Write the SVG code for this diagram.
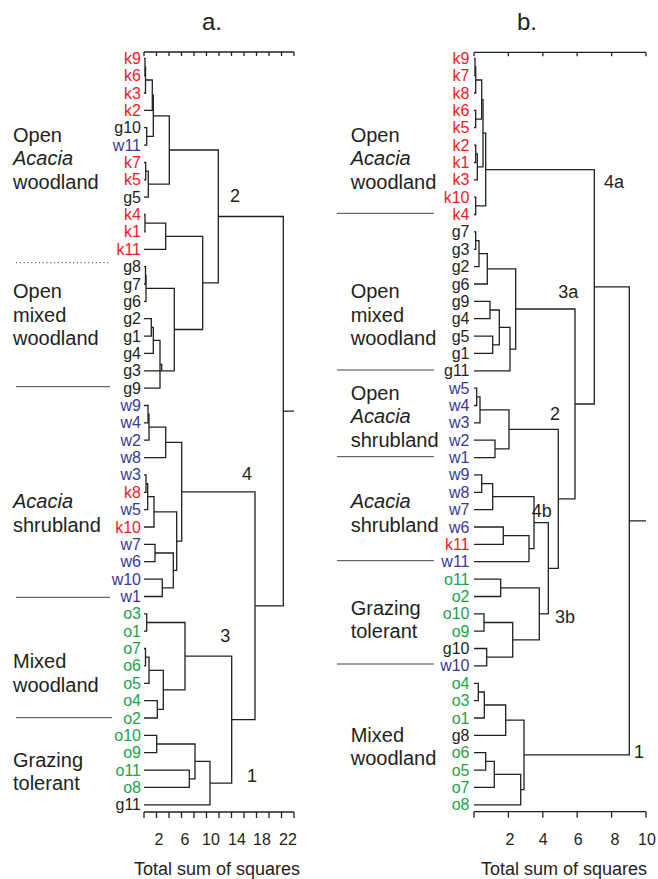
<svg xmlns="http://www.w3.org/2000/svg" width="658" height="879" viewBox="0 0 658 879">
<style>
text{font-family:"Liberation Sans",Arial,sans-serif;fill:#231f20}
.lf{font-size:16px;text-anchor:end}
.k{fill:#ed1c24}.w{fill:#3a3896}.o{fill:#1fa149}.g{fill:#231f20}
.grp{font-size:20px}
.it{font-style:italic}
.num{font-size:18px}
.tk{font-size:16px;text-anchor:middle}
.ttl{font-size:18px;text-anchor:middle}
.hd{font-size:24px}
.tree path{fill:none;stroke:#231f20;stroke-width:1.3}
.ax{fill:none;stroke:#231f20;stroke-width:1.3}
.sep{stroke:#444;stroke-width:1;fill:none}
.dot{stroke:#444;stroke-width:1;stroke-dasharray:1.2 2.6;fill:none}
</style>
<rect width="658" height="879" fill="#fff"/>
<text class="hd" x="222" y="30" text-anchor="end">a.</text>
<text class="hd" x="537" y="30" text-anchor="end">b.</text>

<g id="axes">
<path class="ax" d="M144 52H294M144 52v4M156.5 52v4M169 52v4M181.5 52v4M194 52v4M206.5 52v4M219 52v4M231.5 52v4M244 52v4M256.5 52v4M269 52v4M281.5 52v4M294 52v4"/>
<path class="ax" d="M144 812H294M144 812v6M156.5 812v6M169 812v6M181.5 812v6M194 812v6M206.5 812v6M219 812v6M231.5 812v6M244 812v6M256.5 812v6M269 812v6M281.5 812v6M294 812v6"/>
<text class="tk" x="159" y="845">2</text><text class="tk" x="185" y="845">6</text><text class="tk" x="211" y="845">10</text><text class="tk" x="237" y="845">14</text><text class="tk" x="262" y="845">18</text><text class="tk" x="288" y="845">22</text>
<text class="ttl" x="217" y="875">Total sum of squares</text>
<path class="ax" d="M474 52.3H646M474 52.3v4M508.4 52.3v4M542.8 52.3v4M577.2 52.3v4M611.6 52.3v4M646 52.3v4"/>
<path class="ax" d="M474 811.7H646M474 811.7v6M508.4 811.7v6M542.8 811.7v6M577.2 811.7v6M611.6 811.7v6M646 811.7v6"/>
<text class="tk" x="510" y="845">2</text><text class="tk" x="543.3" y="845">4</text><text class="tk" x="578.3" y="845">6</text><text class="tk" x="615" y="845">8</text><text class="tk" x="647" y="845">10</text>
<text class="ttl" x="564" y="875">Total sum of squares</text>
</g>

<g id="connectors" class="tree">
<path d="M144 58.3H145V75.7H144"/>
<path d="M145 67H145.5V93H144"/>
<path d="M145.5 80H152.3V110.4H144"/>
<path d="M144 127.7H146.7V145.1H144"/>
<path d="M152.3 95.2H153.3V136.4H146.7"/>
<path d="M144 162.5H145.7V179.8H144"/>
<path d="M145.7 171.2H148.3V197.2H144"/>
<path d="M153.3 115.8H169.3V184.2H148.3"/>
<path d="M144 214.5H145V231.9H144"/>
<path d="M145 223.2H165.7V249.3H144"/>
<path d="M144 266.6H145.5V284H144"/>
<path d="M145.5 275.3H146V301.3H144"/>
<path d="M144 318.7H151.3V336.1H144"/>
<path d="M151.3 327.4H153.3V353.4H144"/>
<path d="M153.3 340.4H160V388.1H144"/>
<path d="M160 364.3H161.7V370.8"/>
<path d="M146 288.3H174.3V370.8H144"/>
<path d="M165.7 236.3H202.7V329.5H174.3"/>
<path d="M169.3 150H218.3V282.9H202.7"/>
<path d="M144 405.5H148V422.9H144"/>
<path d="M148 414.2H149V440.2H144"/>
<path d="M149 427.2H165.7V457.6H144"/>
<path d="M144 474.9H146V492.3H144"/>
<path d="M146 483.6H147.7V509.7H144"/>
<path d="M147.7 496.7H154V527H144"/>
<path d="M144 544.4H155V561.7H144"/>
<path d="M144 579.1H162.3V596.5H144"/>
<path d="M155 553H173.3V587.8H162.3"/>
<path d="M154 511.8H176.7V570.4H173.3"/>
<path d="M165.7 442.4H181.7V541.1H176.7"/>
<path d="M144 613.8H146.7V631.2H144"/>
<path d="M144 648.5H145.5V665.9H144"/>
<path d="M145.5 657.2H149V683.3H144"/>
<path d="M144 700.6H157.3V718H144"/>
<path d="M149 670.3H163.3V709.3H157.3"/>
<path d="M146.7 622.5H185V689.8H163.3"/>
<path d="M144 735.3H156.7V752.7H144"/>
<path d="M144 770.1H189.3V787.4H144"/>
<path d="M156.7 744H195V778.8H189.3"/>
<path d="M195 761.4H210V804.8H144"/>
<path d="M185 656.2H231.7V783.1H210"/>
<path d="M181.7 491.8H255V719.7H231.7"/>
<path d="M218.3 216.5H283.3V605.8H255M283.3 411.1H294"/>

<path d="M474 58.3H475V75.7H474"/>
<path d="M475 67H475.7V93H474"/>
<path d="M474 110.4H475.7V127.7H474"/>
<path d="M475.7 80H481.7V119.1H475.7"/>
<path d="M474 145.1H475.7V162.5H474"/>
<path d="M475.7 153.8H477.3V179.8H474"/>
<path d="M481.7 99.6H483V166.8H477.3"/>
<path d="M474 197.2H475.7V214.5H474"/>
<path d="M483 133.2H485.7V205.9H475.7"/>
<path d="M474 231.9H475.7V249.3H474"/>
<path d="M475.7 240.6H479V266.6H474"/>
<path d="M479 253.6H487.3V284H474"/>
<path d="M474 301.3H490V318.7H474"/>
<path d="M474 336.1H492.7V353.4H474"/>
<path d="M490 310H499.3V344.8H492.7"/>
<path d="M499.3 327.4H510V370.8H474"/>
<path d="M487.3 268.8H515.7V349.1H510"/>
<path d="M474 388.1H476.7V405.5H474"/>
<path d="M476.7 396.8H480V422.9H474"/>
<path d="M474 440.2H495V457.6H474"/>
<path d="M480 409.9H509V448.9H495"/>
<path d="M474 474.9H481.7V492.3H474"/>
<path d="M481.7 483.6H492.7V509.7H474"/>
<path d="M474 527H503.3V544.4H474"/>
<path d="M503.3 535.7H529V561.7H474"/>
<path d="M492.7 496.7H534V548.7H529"/>
<path d="M474 579.1H500.7V596.5H474"/>
<path d="M474 613.8H484V631.2H474"/>
<path d="M474 648.5H486.7V665.9H474"/>
<path d="M484 622.5H512.7V657.2H486.7"/>
<path d="M500.7 587.8H539.3V639.9H512.7"/>
<path d="M534 522.7H548.3V613.9H539.3"/>
<path d="M509 429.4H558.3V568.3H548.3"/>
<path d="M515.7 309H575V498.9H558.3"/>
<path d="M485.7 169.6H594.3V404H575"/>
<path d="M474 683.3H478.3V700.6H474"/>
<path d="M478.3 692H484.3V718H474"/>
<path d="M484.3 705H505.7V735.3H474"/>
<path d="M474 752.7H485.7V770.1H474"/>
<path d="M485.7 761.4H494.3V787.4H474"/>
<path d="M494.3 774.4H520.7V804.8H474"/>
<path d="M505.7 720.2H524V789.6H520.7"/>
<path d="M594.3 286.8H629.3V754.9H524M629.3 520.9H646"/>
</g>

<g id="cluster-labels">
<text class="num" x="235" y="201.7" text-anchor="middle">2</text>
<text class="num" x="247" y="480" text-anchor="middle">4</text>
<text class="num" x="225.3" y="641.7" text-anchor="middle">3</text>
<text class="num" x="252" y="781.7" text-anchor="middle">1</text>
<text class="num" x="604" y="188.3">4a</text>
<text class="num" x="558.3" y="298.3">3a</text>
<text class="num" x="555" y="420" text-anchor="middle">2</text>
<text class="num" x="531.7" y="517.3">4b</text>
<text class="num" x="555" y="623.3">3b</text>
<text class="num" x="634" y="758.3">1</text>
</g>

<g id="separators">
<path class="dot" d="M16 262.7H110"/>
<path class="sep" d="M16 386.7H110M16 597.3H110M16 717.7H112"/>
<path class="sep" d="M337 213.3H434M337 370H434M337 456.7H434M337 560.7H434M337 664H434"/>
</g>

<g id="groups-a">
<g id="a-open-acacia-woodland"><text class="grp" x="13" y="142">Open</text><text class="grp it" x="13" y="165">Acacia</text><text class="grp" x="13" y="188.5">woodland</text></g>
<g id="a-open-mixed-woodland"><text class="grp" x="13" y="298.3">Open</text><text class="grp" x="13" y="321.7">mixed</text><text class="grp" x="13" y="345">woodland</text></g>
<g id="a-acacia-shrubland"><text class="grp it" x="13" y="508.3">Acacia</text><text class="grp" x="13" y="531.7">shrubland</text></g>
<g id="a-mixed-woodland"><text class="grp" x="13" y="668">Mixed</text><text class="grp" x="13" y="691.7">woodland</text></g>
<g id="a-grazing-tolerant"><text class="grp" x="13" y="766.7">Grazing</text><text class="grp" x="13" y="790">tolerant</text></g>
</g>
<g id="groups-b">
<g id="b-open-acacia-woodland"><text class="grp" x="350.7" y="142">Open</text><text class="grp it" x="350.7" y="165">Acacia</text><text class="grp" x="350.7" y="188.5">woodland</text></g>
<g id="b-open-mixed-woodland"><text class="grp" x="350.7" y="298.3">Open</text><text class="grp" x="350.7" y="321.7">mixed</text><text class="grp" x="350.7" y="345">woodland</text></g>
<g id="b-open-acacia-shrubland"><text class="grp" x="350.7" y="400">Open</text><text class="grp it" x="350.7" y="423.3">Acacia</text><text class="grp" x="350.7" y="446.7">shrubland</text></g>
<g id="b-acacia-shrubland"><text class="grp it" x="350.7" y="508.3">Acacia</text><text class="grp" x="350.7" y="531.7">shrubland</text></g>
<g id="b-grazing-tolerant"><text class="grp" x="350.7" y="615">Grazing</text><text class="grp" x="350.7" y="638.3">tolerant</text></g>
<g id="b-mixed-woodland"><text class="grp" x="350.7" y="741.7">Mixed</text><text class="grp" x="350.7" y="765">woodland</text></g>
</g>

<g id="leaves-a">
<g id="a-k9"><text class="lf k" x="141" y="63.8">k9</text></g>
<g id="a-k6"><text class="lf k" x="141" y="81.2">k6</text></g>
<g id="a-k3"><text class="lf k" x="141" y="98.5">k3</text></g>
<g id="a-k2"><text class="lf k" x="141" y="115.9">k2</text></g>
<g id="a-g10"><text class="lf g" x="141" y="133.2">g10</text></g>
<g id="a-w11"><text class="lf w" x="141" y="150.6">w11</text></g>
<g id="a-k7"><text class="lf k" x="141" y="168">k7</text></g>
<g id="a-k5"><text class="lf k" x="141" y="185.3">k5</text></g>
<g id="a-g5"><text class="lf g" x="141" y="202.7">g5</text></g>
<g id="a-k4"><text class="lf k" x="141" y="220">k4</text></g>
<g id="a-k1"><text class="lf k" x="141" y="237.4">k1</text></g>
<g id="a-k11"><text class="lf k" x="141" y="254.8">k11</text></g>
<g id="a-g8"><text class="lf g" x="141" y="272.1">g8</text></g>
<g id="a-g7"><text class="lf g" x="141" y="289.5">g7</text></g>
<g id="a-g6"><text class="lf g" x="141" y="306.8">g6</text></g>
<g id="a-g2"><text class="lf g" x="141" y="324.2">g2</text></g>
<g id="a-g1"><text class="lf g" x="141" y="341.6">g1</text></g>
<g id="a-g4"><text class="lf g" x="141" y="358.9">g4</text></g>
<g id="a-g3"><text class="lf g" x="141" y="376.3">g3</text></g>
<g id="a-g9"><text class="lf g" x="141" y="393.6">g9</text></g>
<g id="a-w9"><text class="lf w" x="141" y="411">w9</text></g>
<g id="a-w4"><text class="lf w" x="141" y="428.4">w4</text></g>
<g id="a-w2"><text class="lf w" x="141" y="445.7">w2</text></g>
<g id="a-w8"><text class="lf w" x="141" y="463.1">w8</text></g>
<g id="a-w3"><text class="lf w" x="141" y="480.4">w3</text></g>
<g id="a-k8"><text class="lf k" x="141" y="497.8">k8</text></g>
<g id="a-w5"><text class="lf w" x="141" y="515.2">w5</text></g>
<g id="a-k10"><text class="lf k" x="141" y="532.5">k10</text></g>
<g id="a-w7"><text class="lf w" x="141" y="549.9">w7</text></g>
<g id="a-w6"><text class="lf w" x="141" y="567.2">w6</text></g>
<g id="a-w10"><text class="lf w" x="141" y="584.6">w10</text></g>
<g id="a-w1"><text class="lf w" x="141" y="602">w1</text></g>
<g id="a-o3"><text class="lf o" x="141" y="619.3">o3</text></g>
<g id="a-o1"><text class="lf o" x="141" y="636.7">o1</text></g>
<g id="a-o7"><text class="lf o" x="141" y="654">o7</text></g>
<g id="a-o6"><text class="lf o" x="141" y="671.4">o6</text></g>
<g id="a-o5"><text class="lf o" x="141" y="688.8">o5</text></g>
<g id="a-o4"><text class="lf o" x="141" y="706.1">o4</text></g>
<g id="a-o2"><text class="lf o" x="141" y="723.5">o2</text></g>
<g id="a-o10"><text class="lf o" x="141" y="740.8">o10</text></g>
<g id="a-o9"><text class="lf o" x="141" y="758.2">o9</text></g>
<g id="a-o11"><text class="lf o" x="141" y="775.6">o11</text></g>
<g id="a-o8"><text class="lf o" x="141" y="792.9">o8</text></g>
<g id="a-g11"><text class="lf g" x="141" y="810.3">g11</text></g>
</g>

<g id="leaves-b">
<g id="b-k9"><text class="lf k" x="469.5" y="63.8">k9</text></g>
<g id="b-k7"><text class="lf k" x="469.5" y="81.2">k7</text></g>
<g id="b-k8"><text class="lf k" x="469.5" y="98.5">k8</text></g>
<g id="b-k6"><text class="lf k" x="469.5" y="115.9">k6</text></g>
<g id="b-k5"><text class="lf k" x="469.5" y="133.2">k5</text></g>
<g id="b-k2"><text class="lf k" x="469.5" y="150.6">k2</text></g>
<g id="b-k1"><text class="lf k" x="469.5" y="168">k1</text></g>
<g id="b-k3"><text class="lf k" x="469.5" y="185.3">k3</text></g>
<g id="b-k10"><text class="lf k" x="469.5" y="202.7">k10</text></g>
<g id="b-k4"><text class="lf k" x="469.5" y="220">k4</text></g>
<g id="b-g7"><text class="lf g" x="469.5" y="237.4">g7</text></g>
<g id="b-g3"><text class="lf g" x="469.5" y="254.8">g3</text></g>
<g id="b-g2"><text class="lf g" x="469.5" y="272.1">g2</text></g>
<g id="b-g6"><text class="lf g" x="469.5" y="289.5">g6</text></g>
<g id="b-g9"><text class="lf g" x="469.5" y="306.8">g9</text></g>
<g id="b-g4"><text class="lf g" x="469.5" y="324.2">g4</text></g>
<g id="b-g5"><text class="lf g" x="469.5" y="341.6">g5</text></g>
<g id="b-g1"><text class="lf g" x="469.5" y="358.9">g1</text></g>
<g id="b-g11"><text class="lf g" x="469.5" y="376.3">g11</text></g>
<g id="b-w5"><text class="lf w" x="469.5" y="393.6">w5</text></g>
<g id="b-w4"><text class="lf w" x="469.5" y="411">w4</text></g>
<g id="b-w3"><text class="lf w" x="469.5" y="428.4">w3</text></g>
<g id="b-w2"><text class="lf w" x="469.5" y="445.7">w2</text></g>
<g id="b-w1"><text class="lf w" x="469.5" y="463.1">w1</text></g>
<g id="b-w9"><text class="lf w" x="469.5" y="480.4">w9</text></g>
<g id="b-w8"><text class="lf w" x="469.5" y="497.8">w8</text></g>
<g id="b-w7"><text class="lf w" x="469.5" y="515.2">w7</text></g>
<g id="b-w6"><text class="lf w" x="469.5" y="532.5">w6</text></g>
<g id="b-k11"><text class="lf k" x="469.5" y="549.9">k11</text></g>
<g id="b-w11"><text class="lf w" x="469.5" y="567.2">w11</text></g>
<g id="b-o11"><text class="lf o" x="469.5" y="584.6">o11</text></g>
<g id="b-o2"><text class="lf o" x="469.5" y="602">o2</text></g>
<g id="b-o10"><text class="lf o" x="469.5" y="619.3">o10</text></g>
<g id="b-o9"><text class="lf o" x="469.5" y="636.7">o9</text></g>
<g id="b-g10"><text class="lf g" x="469.5" y="654">g10</text></g>
<g id="b-w10"><text class="lf w" x="469.5" y="671.4">w10</text></g>
<g id="b-o4"><text class="lf o" x="469.5" y="688.8">o4</text></g>
<g id="b-o3"><text class="lf o" x="469.5" y="706.1">o3</text></g>
<g id="b-o1"><text class="lf o" x="469.5" y="723.5">o1</text></g>
<g id="b-g8"><text class="lf g" x="469.5" y="740.8">g8</text></g>
<g id="b-o6"><text class="lf o" x="469.5" y="758.2">o6</text></g>
<g id="b-o5"><text class="lf o" x="469.5" y="775.6">o5</text></g>
<g id="b-o7"><text class="lf o" x="469.5" y="792.9">o7</text></g>
<g id="b-o8"><text class="lf o" x="469.5" y="810.3">o8</text></g>
</g>
</svg>
